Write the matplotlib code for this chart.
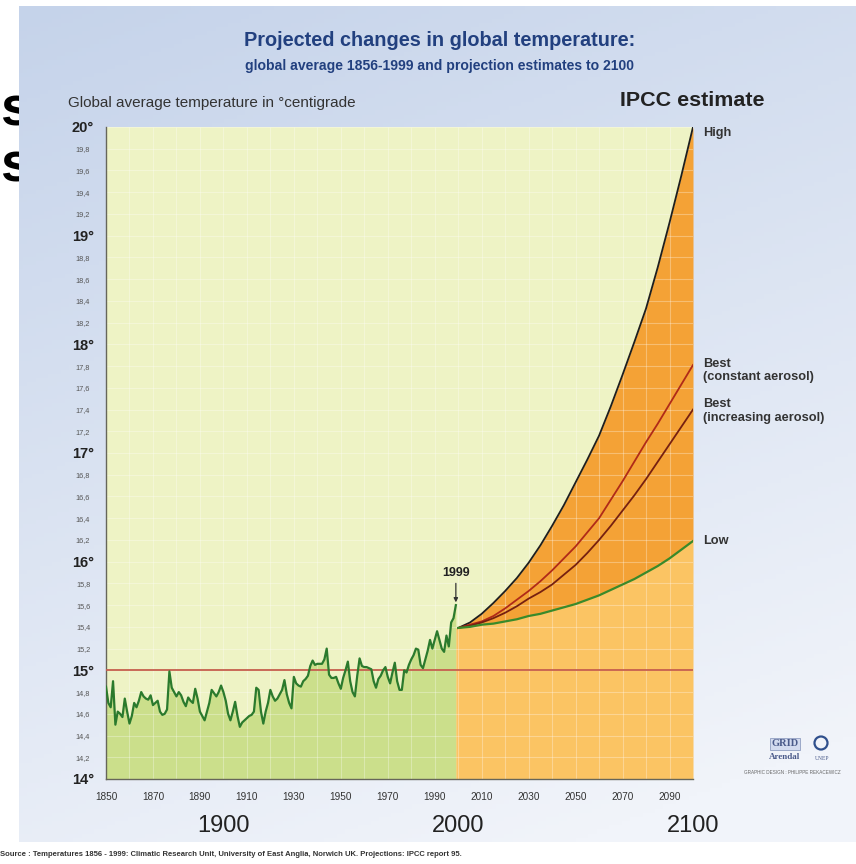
import numpy as np
import matplotlib
matplotlib.use('Agg')
import matplotlib.pyplot as plt
from matplotlib import font_manager
from matplotlib.colors import to_rgb
from matplotlib.patches import Circle

# fonts: condensed face for the titles if it is there
names = {f.name for f in font_manager.fontManager.ttflist}
narrow = 'Liberation Sans Narrow' if 'Liberation Sans Narrow' in names else 'Liberation Sans'
plt.rcParams['font.family'] = ['Liberation Sans', 'DejaVu Sans']

hist_years = np.arange(1850, 2000)
hist_temp = [
    14.85, 14.70, 14.66, 14.90, 14.50, 14.62, 14.60, 14.57, 14.74, 14.62,  # 1850s
    14.51, 14.58, 14.70, 14.66, 14.72, 14.80, 14.76, 14.74, 14.73, 14.77,  # 1860s
    14.68, 14.70, 14.72, 14.62, 14.59, 14.60, 14.64, 14.99, 14.84, 14.80,  # 1870s
    14.76, 14.80, 14.77, 14.71, 14.67, 14.75, 14.72, 14.70, 14.83, 14.74,  # 1880s
    14.62, 14.58, 14.54, 14.62, 14.70, 14.82, 14.79, 14.76, 14.80, 14.86,  # 1890s
    14.80, 14.72, 14.60, 14.54, 14.62, 14.71, 14.58, 14.48, 14.52, 14.54,  # 1900s
    14.56, 14.58, 14.59, 14.62, 14.84, 14.82, 14.62, 14.51, 14.62, 14.70,  # 1910s
    14.82, 14.76, 14.72, 14.74, 14.78, 14.82, 14.91, 14.78, 14.70, 14.65,  # 1920s
    14.94, 14.88, 14.86, 14.85, 14.90, 14.92, 14.95, 15.04, 15.09, 15.05,  # 1930s
    15.06, 15.06, 15.06, 15.10, 15.20, 14.96, 14.93, 14.93, 14.94, 14.88,  # 1940s
    14.83, 14.93, 15.00, 15.08, 14.90, 14.80, 14.76, 14.95, 15.11, 15.04,  # 1950s
    15.03, 15.03, 15.02, 15.01, 14.90, 14.84, 14.92, 14.95, 15.00, 15.03,  # 1960s
    14.94, 14.88, 14.98, 15.07, 14.90, 14.82, 14.82, 15.00, 14.98, 15.05,  # 1970s
    15.10, 15.14, 15.20, 15.19, 15.05, 15.02, 15.10, 15.18, 15.28, 15.20,  # 1980s
    15.28, 15.36, 15.28, 15.20, 15.17, 15.32, 15.22, 15.44, 15.48, 15.60,  # 1990s
]

# IPCC projections, every 5 years
proj_years = list(range(2000, 2101, 5))
high = [15.39, 15.44, 15.52, 15.62, 15.73, 15.85, 15.99, 16.15, 16.33, 16.52, 16.73,
        16.94, 17.16, 17.43, 17.72, 18.02, 18.33, 18.71, 19.12, 19.55, 20.00]
best_const = [15.39, 15.42, 15.45, 15.50, 15.57, 15.65, 15.73, 15.82, 15.92, 16.03, 16.14,
              16.27, 16.40, 16.57, 16.74, 16.92, 17.10, 17.27, 17.45, 17.63, 17.81]
best_incr = [15.39, 15.41, 15.44, 15.48, 15.53, 15.59, 15.66, 15.72, 15.79, 15.88, 15.97,
             16.08, 16.20, 16.33, 16.47, 16.61, 16.76, 16.92, 17.08, 17.24, 17.40]
low = [15.39, 15.40, 15.42, 15.43, 15.45, 15.47, 15.50, 15.52, 15.55, 15.58, 15.61,
       15.65, 15.69, 15.74, 15.79, 15.84, 15.90, 15.96, 16.03, 16.11, 16.19]

major_y = [14, 15, 16, 17, 18, 19, 20]
minor_y = [round(14 + 0.2 * i, 1) for i in range(31) if i % 5]
x_ticks = list(range(1850, 2100, 20))
century_ticks = [1900, 2000, 2100]

W, H = 856, 864
fig = plt.figure(figsize=(W / 100, H / 100), dpi=100)
renderer = fig.canvas.get_renderer()


def fit_width(t, px):
    w = t.get_window_extent(renderer).width
    t.set_fontsize(t.get_fontsize() * px / w)


# background in pixel coordinates
bg = fig.add_axes([0, 0, 1, 1])
bg.axis('off')
bg.text(0, 112, 's', fontsize=40, fontweight='bold', ha='left', va='center', zorder=1)
bg.text(0, 168, 's', fontsize=40, fontweight='bold', ha='left', va='center', zorder=1)
yy, xx = np.mgrid[0:1:200j, 0:1:200j]
top_c = np.array(to_rgb('#c5d3ea'))
bot_c = np.array(to_rgb('#f1f4fa'))
t = np.clip(0.8 * yy + 0.3 * xx, 0, 1)[..., None]
bg.imshow(top_c * (1 - t) + bot_c * t, extent=(19, W, 842, 6), aspect='auto', zorder=2)
bg.set_xlim(0, W)
bg.set_ylim(H, 0)

# logo
bg.text(785, 744, 'GRID', family='Liberation Serif', weight='bold', fontsize=7.5,
        color='#4a5a8a', ha='center', va='center', zorder=5,
        bbox=dict(boxstyle='square,pad=0.15', fc='#d3dbef', ec='#8090b8', lw=0.5))
bg.add_patch(Circle((821, 743), 6.5, fc='none', ec='#2f4f8c', lw=1.6, zorder=5))
bg.text(785, 757, 'Arendal', family='Liberation Serif', weight='bold', fontsize=6.5,
        color='#4a5a8a', ha='center', va='center', zorder=5)
bg.text(822, 758, 'UNEP', family='Liberation Serif', fontsize=4, color='#4a5a8a',
        ha='center', va='center', zorder=5)
bg.text(792, 772, 'GRAPHIC DESIGN : PHILIPPE REKACEWICZ', fontsize=3.3, color='#666',
        ha='center', va='center', zorder=5)

src = bg.text(0, 855, 'Source : Temperatures 1856 - 1999: Climatic Research Unit, University of East Anglia, '
              'Norwich UK. Projections: IPCC report 95.', fontsize=5, weight='bold', color='#333',
              ha='left', va='center', zorder=5)
fit_width(src, 470)

# titles
t1 = fig.text(440 / W, 1 - 40 / H, 'Projected changes in global temperature:', ha='center', va='center',
              family=narrow, weight='bold', color='#22407f', fontsize=16)
fit_width(t1, 391)
t2 = fig.text(440 / W, 1 - 66 / H, 'global average 1856-1999 and projection estimates to 2100',
              ha='center', va='center', family=narrow, weight='bold', color='#22407f', fontsize=10)
fit_width(t2, 389)
t3 = fig.text(68 / W, 1 - 103 / H, 'Global average temperature in °centigrade', ha='left', va='center',
              color='#333', fontsize=10)
fit_width(t3, 290)
t4 = fig.text(765 / W, 1 - 101 / H, 'IPCC estimate', ha='right', va='center', weight='bold',
              color='#222', fontsize=15)
fit_width(t4, 145)

# main chart
ax = fig.add_axes([106 / W, 1 - 779 / H, 587 / W, 652 / H])
ax.set_xlim(1850, 2100)
ax.set_ylim(14, 20)
ax.set_facecolor('#eef3c5')

ax.fill_between(hist_years, 14, hist_temp, color='#cbdf8b', lw=0, zorder=1)
ax.fill_between(np.r_[hist_years[-1], proj_years], 14, np.r_[low[0], low], color='#fbc463', lw=0, zorder=1)
ax.fill_between(proj_years, low, high, color='#f4a236', lw=0, zorder=1)

ax.vlines(np.arange(1860, 2100, 10), 14, 20, color='white', alpha=0.3, lw=0.8, zorder=2)
ax.hlines(np.arange(14.2, 20, 0.2), 1850, 2100, color='white', alpha=0.3, lw=0.8, zorder=2)
ax.axhline(15, color='#c65f4d', lw=1.3, zorder=3)

ax.plot(hist_years, hist_temp, color='#2b7a2d', lw=1.6, zorder=4)
ax.plot(proj_years, high, color='#1e1e1e', lw=1.3, zorder=4)
ax.plot(proj_years, best_const, color='#b02a18', lw=1.3, zorder=4)
ax.plot(proj_years, best_incr, color='#762010', lw=1.3, zorder=4)
ax.plot(proj_years, low, color='#3a8a2a', lw=1.6, zorder=4)

for s in ['top', 'right']:
    ax.spines[s].set_visible(False)
for s in ['left', 'bottom']:
    ax.spines[s].set_color('#66665a')
    ax.spines[s].set_linewidth(1.0)

ax.set_yticks(major_y, [f'{v}°' for v in major_y])
ax.set_yticks(minor_y, [f'{v:.1f}'.replace('.', ',') for v in minor_y], minor=True)
ax.tick_params(axis='y', which='both', length=0, pad=16.5)
ax.tick_params(axis='y', which='major', labelsize=10.5, labelcolor='#222')
ax.tick_params(axis='y', which='minor', labelsize=5.3, labelcolor='#555')
for lab in ax.get_yticklabels():
    lab.set_ha('center')
    lab.set_fontweight('bold')
for lab in ax.get_yticklabels(minor=True):
    lab.set_ha('center')

ax.set_xticks(x_ticks, [str(v) for v in x_ticks])
ax.tick_params(axis='x', length=0, pad=9, labelsize=7.2, labelcolor='#333')
for yr in century_ticks:
    ax.text(yr, -0.072, str(yr), transform=ax.get_xaxis_transform(), ha='center', va='center',
            family=narrow, fontsize=17, color='#222')

ax.annotate('1999', xy=(hist_years[-1], hist_temp[-1]), xytext=(0, 23), textcoords='offset points',
            ha='center', va='center', fontweight='bold', fontsize=9, color='#222',
            arrowprops=dict(arrowstyle='-|>', color='#333', lw=0.9, shrinkA=1, shrinkB=2,
                            mutation_scale=6))

lab_kw = dict(textcoords='offset points', ha='left', va='center', fontweight='bold', fontsize=9.2,
              color='#333', annotation_clip=False, linespacing=1.2)
ax.annotate('High', xy=(proj_years[-1], high[-1]), xytext=(7, -4), **lab_kw)
ax.annotate('Best\n(constant aerosol)', xy=(proj_years[-1], best_const[-1]), xytext=(7, -4), **lab_kw)
ax.annotate('Best\n(increasing aerosol)', xy=(proj_years[-1], best_incr[-1]), xytext=(7, -1), **lab_kw)
ax.annotate('Low', xy=(proj_years[-1], low[-1]), xytext=(7, 0), **lab_kw)

fig.savefig('out.png', dpi=100)
